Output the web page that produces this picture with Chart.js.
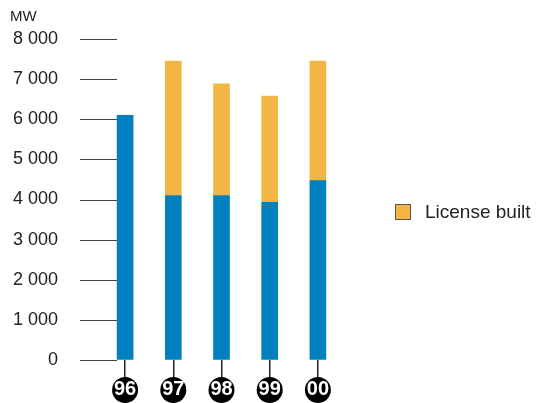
<!DOCTYPE html>
<html>
<head>
<meta charset="utf-8">
<script src="https://cdn.jsdelivr.net/npm/chart.js"></script>
<style>
  body { margin: 0; background: #fff; }
  #wrap { position: relative; width: 548px; height: 403px; overflow: hidden; font-family: "Liberation Sans", Arial, sans-serif; color: #222; }
  #unit { position: absolute; left: 10px; top: 7px; font-size: 15px; }
  #legend { position: absolute; left: 395px; top: 201px; font-size: 19px; line-height: 22px; white-space: nowrap; }
  #legend .box { display: inline-block; width: 14px; height: 14px; background: #F3B543; border: 1px solid #555; vertical-align: -2px; margin-right: 14px; }
</style>
</head>
<body>
<div id="wrap">
  <canvas id="chart" width="548" height="403"></canvas>
  <div id="unit">MW</div>
  <div id="legend"><span class="box"></span>License built</div>
</div>
<script>
// Daten
const years = ['96', '97', '98', '99', '00'];
const ownBuilt = [6100, 4100, 4100, 3930, 4470];
const licenseBuilt = [0, 3350, 2780, 2650, 2980];
const yTicks = [0, 1000, 2000, 3000, 4000, 5000, 6000, 7000, 8000];

const blue = '#0080BF';
const orange = '#F3B543';

// y-Strichmarken (bis an den ersten Balken) und schwarze Kreise unter den Jahreszahlen
const extras = {
  id: 'extras',
  beforeDatasetsDraw(chart) {
    const { ctx, scales: { x, y }, chartArea } = chart;
    ctx.save();
    ctx.strokeStyle = '#444';
    ctx.lineWidth = 1;
    const xStart = chartArea.left - 21;
    const xEnd = x.getPixelForTick(0) - 8;
    y.ticks.forEach((t, i) => {
      const py = Math.round(y.getPixelForTick(i)) + 0.5;
      ctx.beginPath();
      ctx.moveTo(xStart, py);
      ctx.lineTo(xEnd, py);
      ctx.stroke();
    });
    // Kreise
    ctx.fillStyle = '#000';
    x.ticks.forEach((t, i) => {
      const px = x.getPixelForTick(i);
      ctx.beginPath();
      ctx.arc(px, x.top + 30, 13, 0, Math.PI * 2);
      ctx.fill();
    });
    ctx.restore();
  }
};

document.addEventListener('DOMContentLoaded', () => {
  const ctx = document.getElementById('chart').getContext('2d');
  new Chart(ctx, {
    type: 'bar',
    data: {
      labels: years,
      datasets: [
        { label: 'Own built', data: ownBuilt, backgroundColor: blue, barThickness: 16 },
        { label: 'License built', data: licenseBuilt, backgroundColor: orange, barThickness: 16 }
      ]
    },
    options: {
      responsive: false,
      animation: false,
      layout: { padding: { top: 39, left: 10, right: 206, bottom: 3 } },
      plugins: {
        legend: { display: false },
        tooltip: { enabled: false }
      },
      scales: {
        x: {
          stacked: true,
          offset: true,
          border: { display: false },
          grid: { offset: false, drawOnChartArea: false, tickLength: 18, color: '#222', lineWidth: 1.5 },
          ticks: {
            z: 1,
            color: '#fff',
            padding: 1,
            font: { family: 'Liberation Sans', size: 20, weight: 'bold', lineHeight: 1 }
          }
        },
        y: {
          stacked: true,
          min: 0,
          max: 8000,
          afterBuildTicks: (scale) => { scale.ticks = yTicks.map(v => ({ value: v })); },
          afterFit: (scale) => { scale.width = 91; },
          border: { display: false },
          // Strichlänge bleibt für den Abstand, die Linien zeichnet das Plugin
          grid: { drawOnChartArea: false, tickLength: 21, color: 'rgba(0,0,0,0)' },
          ticks: {
            padding: 22,
            color: '#222',
            font: { family: 'Liberation Sans', size: 18 },
            callback: (v) => String(v).replace(/\B(?=(\d{3})+(?!\d))/g, ' ')
          }
        }
      }
    },
    plugins: [extras]
  });
});
</script>
</body>
</html>
